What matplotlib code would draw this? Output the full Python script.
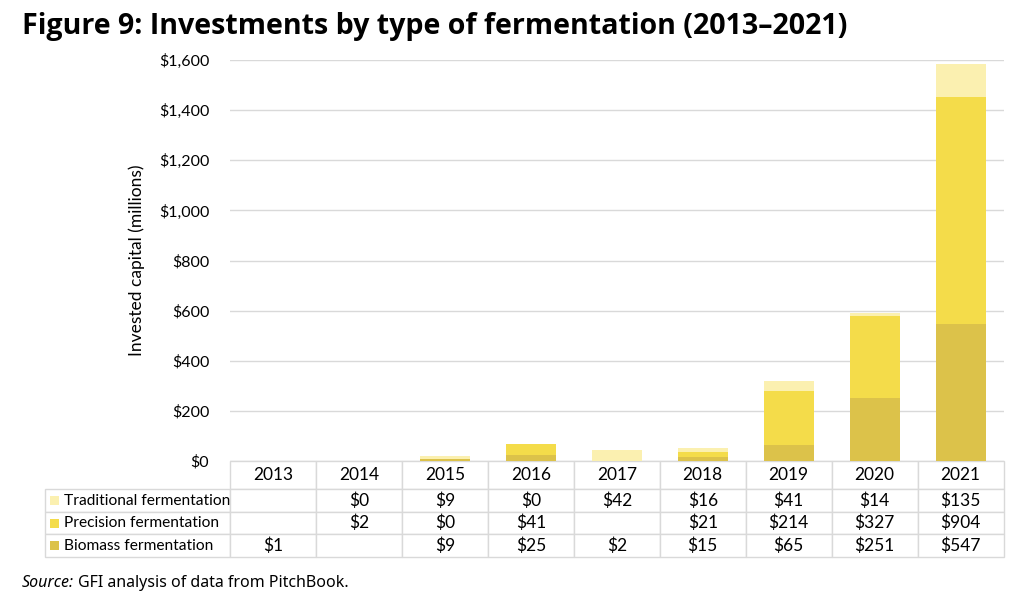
import matplotlib.pyplot as plt
import matplotlib.patches as mpatches
import numpy as np

# Data (millions USD); None = blank cell in the table
years = ['2013', '2014', '2015', '2016', '2017', '2018', '2019', '2020', '2021']
series_names = ['Traditional fermentation', 'Precision fermentation', 'Biomass fermentation']
traditional = [None, 0, 9, 0, 42, 16, 41, 14, 135]
precision = [None, 2, 0, 41, None, 21, 214, 327, 904]
biomass = [1, None, 9, 25, 2, 15, 65, 251, 547]

colors = {'Traditional fermentation': '#fbf0b0',
          'Precision fermentation': '#f4dc4a',
          'Biomass fermentation': '#dcc24a'}

plt.rcParams['font.family'] = ['Lato', 'DejaVu Sans']

fig = plt.figure(figsize=(10.24, 5.97), dpi=100)
ax = fig.add_axes([0.2246, 0.2278, 0.7555, 0.6717])

x = np.arange(len(years))
vals = lambda s: np.array([0 if v is None else v for v in s], dtype=float)
b = vals(biomass)
p = vals(precision)
t = vals(traditional)
w = 0.58
ax.bar(x, b, w, color=colors['Biomass fermentation'], zorder=3)
ax.bar(x, p, w, bottom=b, color=colors['Precision fermentation'], zorder=3)
ax.bar(x, t, w, bottom=b + p, color=colors['Traditional fermentation'], zorder=3)

ax.set_xlim(-0.5, len(years) - 0.5)
ax.set_ylim(0, 1600)
ax.set_yticks(np.arange(0, 1601, 200))
ax.set_yticklabels([f'${v:,.0f}' for v in np.arange(0, 1601, 200)], fontsize=11.5)
ax.tick_params(axis='y', length=0, pad=15)
ax.set_xticks([])
ax.grid(axis='y', color='#d9d9d9', linewidth=1, zorder=0)
for s in ax.spines.values():
    s.set_visible(False)
ax.set_ylabel('Invested capital (millions)', fontsize=12.5, labelpad=10)

# Data table under the plot
def fmt(v):
    return '' if v is None else f'${v}'

rows = [traditional, precision, biomass]
cell_text = [[name] + [fmt(v) for v in r] for name, r in zip(series_names, rows)]
tbl = ax.table(cellText=cell_text, colLabels=[''] + years,
               bbox=[-0.239, -0.239, 1.239, 0.239], cellLoc='center')
tbl.auto_set_font_size(False)
tbl.set_fontsize(12.5)
for (r, c), cell in tbl.get_celld().items():
    cell.set_edgecolor('#d9d9d9')
    cell.set_linewidth(1)
    cell.set_width(185 if c == 0 else 86)
    cell.set_height(29 if r == 0 else 23)
    if c == 0:
        cell.get_text().set_ha('left')
        cell.get_text().set_fontsize(11.2)
        cell.PAD = 0.1
tbl[(0, 0)].visible_edges = ''

# colour swatches in the label column
fig.canvas.draw()
ax_w = ax.get_window_extent().width
ax_h = ax.get_window_extent().height
sq_w = 9 / ax_w
sq_h = 9 / ax_h
for i, name in enumerate(series_names):
    cell = tbl[(i + 1, 0)]
    cx = cell.get_x()
    cy = cell.get_y() + cell.get_height() / 2
    ax.add_patch(mpatches.Rectangle((cx + 5 / ax_w, cy - sq_h / 2), sq_w, sq_h,
                                    transform=ax.transAxes, clip_on=False,
                                    facecolor=colors[name], edgecolor='none', zorder=5))

fig.text(0.021, 0.955, 'Figure 9: Investments by type of fermentation (2013\u20132021)',
         fontsize=20.6, fontweight='bold', family=['Open Sans', 'DejaVu Sans'], va='center')
src = fig.text(0.021, 0.023, 'Source:', fontsize=11.5, style='italic',
               family=['Noto Sans', 'DejaVu Sans'], va='center')
fig.canvas.draw()
src_end = src.get_window_extent().x1 / fig.bbox.width
fig.text(src_end + 0.004, 0.023, 'GFI analysis of data from PitchBook.', fontsize=11.5,
         family=['Noto Sans', 'DejaVu Sans'], va='center')

fig.savefig('out.png', dpi=100)
